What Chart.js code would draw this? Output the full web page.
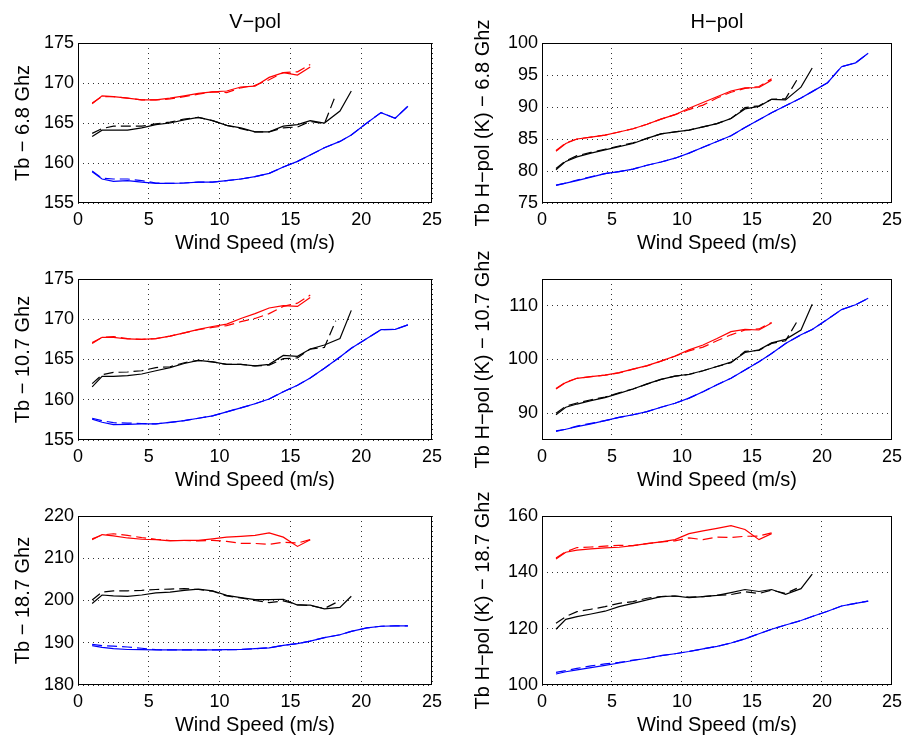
<!DOCTYPE html>
<html>
<head>
<meta charset="utf-8">
<script src="https://cdn.jsdelivr.net/npm/chart.js@4.4.0/dist/chart.umd.min.js"></script>
<style>
  body { margin: 0; background: #fff; }
  #wrap { position: relative; width: 908px; height: 740px; overflow: hidden; }
  canvas { position: absolute; }
</style>
</head>
<body>
<div id="wrap"></div>
<script>
// wind speed bins (m/s)
const speed = [1, 1.7, 2.5, 3.5, 4.5, 5.5, 6.5, 7.5, 8.5, 9.5, 10.5, 11.5, 12.5, 13.5, 14.5, 15.5, 16.4, 17.4, 18.5, 19.3, 20.4, 21.4, 22.4, 23.3];
const speedBlackDash = [1, 1.7, 2.5, 3.5, 4.5, 5.5, 6.5, 7.5, 8.5, 9.5, 10.5, 11.5, 12.5, 13.5, 14.5, 15.5, 16.4, 17.4, 18.2];
const xTicks = [0, 5, 10, 15, 20, 25];

// V-pol 6.8 GHz
const v68RedSolid = [167.4, 168.4, 168.3, 168.1, 167.9, 167.9, 168.1, 168.4, 168.7, 168.9, 169.0, 169.5, 169.6, 170.7, 171.3, 171.0, 172.0];
const v68RedDash = [167.5, 168.3, 168.3, 168.1, 167.9, 167.9, 168.0, 168.3, 168.6, 168.9, 168.8, 169.4, 169.7, 170.4, 171.3, 171.4, 172.3];
const v68BlackSolid = [163.3, 164.1, 164.1, 164.1, 164.4, 164.8, 165.0, 165.4, 165.7, 165.3, 164.7, 164.4, 163.9, 163.9, 164.6, 164.8, 165.3, 165.0, 166.5, 169.0];
const v68BlackDash = [163.7, 164.3, 164.6, 164.6, 164.6, 164.9, 165.1, 165.5, 165.7, 165.3, 164.7, 164.3, 163.9, 163.9, 164.4, 164.5, 165.2, 164.9, 168.5];
const v68BlueSolid = [158.9, 158.0, 157.7, 157.8, 157.6, 157.45, 157.45, 157.5, 157.6, 157.6, 157.8, 158.0, 158.3, 158.7, 159.5, 160.2, 161.0, 161.9, 162.7, 163.5, 165.0, 166.3, 165.6, 167.1];
const v68BlueDash = [159.0, 158.1, 158.0, 158.0, 157.8, 157.5, 157.45, 157.5, 157.6, 157.6, 157.8, 158.0, 158.3, 158.7, 159.5, 160.2, 161.0, 161.9, 162.7, 163.5, 165.0, 166.3, 165.6, 167.1];

// H-pol 6.8 GHz
const h68RedSolid = [83.1, 84.3, 85.0, 85.3, 85.6, 86.1, 86.6, 87.3, 88.1, 88.8, 89.8, 90.7, 91.6, 92.5, 93.0, 93.05, 94.2];
const h68RedDash = [83.2, 84.4, 85.0, 85.3, 85.6, 86.1, 86.6, 87.3, 88.1, 88.8, 89.6, 90.3, 91.4, 92.3, 92.9, 93.2, 94.4];
const h68BlackSolid = [80.2, 81.5, 82.2, 82.8, 83.3, 83.8, 84.3, 85.1, 85.8, 86.1, 86.4, 86.9, 87.4, 88.2, 89.7, 90.1, 91.2, 91.1, 93.1, 96.1];
const h68BlackDash = [80.4, 81.6, 82.4, 82.9, 83.4, 83.9, 84.4, 85.1, 85.8, 86.1, 86.4, 86.9, 87.4, 88.2, 89.9, 90.2, 91.2, 91.3, 94.2];
const h68BlueSolid = [77.75, 78.1, 78.5, 79.05, 79.6, 79.9, 80.3, 80.9, 81.4, 82.0, 82.8, 83.7, 84.6, 85.5, 86.8, 88.0, 89.1, 90.2, 91.4, 92.4, 93.8, 96.3, 96.9, 98.4];
const h68BlueDash = [77.8, 78.1, 78.6, 79.1, 79.6, 79.9, 80.3, 80.9, 81.4, 82.0, 82.8, 83.7, 84.6, 85.5, 86.8, 88.0, 89.1, 90.2, 91.4, 92.4, 93.8, 96.3, 96.9, 98.4];

// V-pol 10.7 GHz
const v107RedSolid = [167.0, 167.75, 167.75, 167.55, 167.5, 167.6, 167.9, 168.3, 168.75, 169.1, 169.4, 170.1, 170.7, 171.4, 171.7, 171.6, 172.7];
const v107RedDash = [167.1, 167.75, 167.85, 167.6, 167.5, 167.6, 167.9, 168.3, 168.7, 169.0, 169.2, 169.7, 170.1, 170.7, 171.6, 172.0, 173.0];
const v107BlackSolid = [161.6, 162.9, 162.9, 163.0, 163.2, 163.6, 164.0, 164.5, 164.9, 164.7, 164.4, 164.4, 164.2, 164.4, 165.5, 165.4, 166.3, 166.8, 167.6, 171.1];
const v107BlackDash = [162.0, 163.1, 163.4, 163.45, 163.6, 164.0, 164.1, 164.6, 164.9, 164.7, 164.4, 164.4, 164.2, 164.3, 165.1, 165.2, 166.3, 166.5, 169.8];
const v107BlueSolid = [157.6, 157.2, 156.9, 156.95, 157.0, 157.0, 157.2, 157.4, 157.7, 158.0, 158.5, 159.0, 159.5, 160.1, 161.0, 161.8, 162.7, 163.9, 165.3, 166.4, 167.6, 168.7, 168.75, 169.3];
const v107BlueDash = [157.7, 157.4, 157.15, 157.1, 157.05, 157.0, 157.2, 157.4, 157.7, 158.0, 158.5, 159.0, 159.5, 160.1, 161.0, 161.8, 162.7, 163.9, 165.3, 166.4, 167.6, 168.7, 168.75, 169.3];

// H-pol 10.7 GHz
const h107RedSolid = [94.5, 95.7, 96.5, 96.8, 97.1, 97.55, 98.2, 98.85, 99.7, 100.65, 101.8, 102.7, 103.9, 105.2, 105.6, 105.5, 106.8];
const h107RedDash = [94.6, 95.8, 96.5, 96.8, 97.1, 97.5, 98.2, 98.8, 99.7, 100.6, 101.6, 102.3, 103.5, 104.6, 105.5, 105.7, 106.9];
const h107BlackSolid = [89.7, 91.1, 91.7, 92.35, 92.9, 93.7, 94.5, 95.45, 96.3, 96.9, 97.25, 97.9, 98.7, 99.5, 101.3, 101.8, 103.1, 103.75, 105.5, 110.3];
const h107BlackDash = [90.0, 91.3, 91.9, 92.5, 93.0, 93.8, 94.5, 95.4, 96.3, 96.9, 97.2, 97.9, 98.7, 99.4, 101.5, 101.7, 103.0, 103.5, 107.0];
const h107BlueSolid = [86.6, 87.0, 87.5, 88.0, 88.6, 89.2, 89.7, 90.3, 91.1, 91.85, 92.8, 94.0, 95.3, 96.5, 98.05, 99.6, 101.1, 103.0, 104.6, 105.6, 107.5, 109.3, 110.2, 111.4];
const h107BlueDash = [86.7, 87.0, 87.6, 88.1, 88.6, 89.2, 89.7, 90.3, 91.1, 91.85, 92.8, 94.0, 95.3, 96.5, 98.05, 99.6, 101.1, 103.0, 104.6, 105.6, 107.5, 109.3, 110.2, 111.4];

// V-pol 18.7 GHz
const v187RedSolid = [214.4, 215.6, 215.3, 214.8, 214.5, 214.4, 214.1, 214.25, 214.25, 214.6, 215.0, 215.2, 215.4, 216.0, 215.0, 212.8, 214.4];
const v187RedDash = [214.6, 215.5, 215.8, 215.4, 214.9, 214.5, 214.2, 214.2, 214.1, 214.25, 214.0, 213.5, 213.5, 213.3, 213.8, 213.6, 214.4];
const v187BlackSolid = [199.3, 201.3, 201.1, 201.0, 201.3, 201.8, 202.0, 202.4, 202.7, 202.3, 201.2, 200.7, 200.2, 200.2, 200.3, 198.9, 198.9, 198.0, 198.35, 201.0];
const v187BlackDash = [200.1, 202.0, 202.3, 202.3, 202.4, 202.6, 202.7, 202.8, 202.6, 202.2, 201.1, 200.6, 200.0, 199.5, 199.9, 199.05, 198.8, 198.1, 199.45];
const v187BlueSolid = [189.3, 188.9, 188.6, 188.4, 188.35, 188.3, 188.3, 188.3, 188.3, 188.3, 188.35, 188.4, 188.6, 188.8, 189.4, 189.8, 190.4, 191.2, 191.9, 192.7, 193.5, 193.9, 194.0, 194.0];
const v187BlueDash = [189.6, 189.3, 189.2, 189.0, 188.7, 188.35, 188.3, 188.3, 188.3, 188.3, 188.35, 188.4, 188.6, 188.8, 189.4, 189.8, 190.4, 191.2, 191.9, 192.7, 193.5, 193.9, 194.0, 194.0];

// H-pol 18.7 GHz
const h187RedSolid = [144.7, 147.15, 147.9, 148.3, 148.7, 148.9, 149.5, 150.2, 150.8, 151.6, 153.75, 154.7, 155.6, 156.6, 155.2, 151.6, 153.75];
const h187RedDash = [145.1, 147.3, 148.8, 149.0, 149.3, 149.6, 149.5, 150.2, 150.8, 151.2, 152.2, 151.6, 152.5, 152.4, 152.8, 152.9, 154.0];
const h187BlackSolid = [119.8, 123.3, 124.3, 125.2, 126.2, 127.8, 129.0, 130.2, 131.4, 131.6, 131.0, 131.4, 131.8, 132.8, 133.9, 133.2, 133.9, 132.2, 134.2, 139.4];
const h187BlackDash = [121.9, 124.3, 126.05, 126.9, 127.8, 129.0, 129.6, 130.8, 131.4, 131.6, 131.2, 131.4, 131.8, 132.1, 133.1, 132.5, 133.7, 132.5, 134.3];
const h187BlueSolid = [103.9, 104.7, 105.4, 106.2, 107.0, 107.8, 108.7, 109.5, 110.4, 111.1, 111.9, 112.85, 113.7, 114.9, 116.4, 118.2, 119.8, 121.3, 122.9, 124.3, 126.2, 128.05, 129.0, 129.8];
const h187BlueDash = [104.5, 105.1, 105.9, 106.8, 107.5, 108.0, 108.8, 109.5, 110.4, 111.1, 111.9, 112.85, 113.7, 114.9, 116.4, 118.2, 119.8, 121.3, 122.9, 124.3, 126.2, 128.05, 129.0, 129.8];

// y tick labels per panel
const yTicksV68 = [155, 160, 165, 170, 175];
const yTicksH68 = [75, 80, 85, 90, 95, 100];
const yTicksV107 = [155, 160, 165, 170, 175];
const yTicksH107 = [90, 100, 110];
const yTicksV187 = [180, 190, 200, 210, 220];
const yTicksH187 = [100, 120, 140, 160];

const FONT = 'Liberation Sans, Arial, Helvetica, sans-serif';
const RED = '#ff0000', BLACK = '#000000', BLUE = '#0000ff';

function pts(xs, ys) {
    return ys.map((y, i) => ({x: xs[i], y: y}));
}

function lines(rs, rd, ks, kd, bs, bd) {
    return [
        {c: RED, d: [], data: pts(speed, rs)},
        {c: RED, d: [10, 5], data: pts(speed, rd)},
        {c: BLACK, d: [], data: pts(speed, ks)},
        {c: BLACK, d: [10, 5], data: pts(speedBlackDash, kd)},
        {c: BLUE, d: [], data: pts(speed, bs)},
        {c: BLUE, d: [10, 5], data: pts(speed, bd)}
    ];
}

// frame round the plot area, like a matlab axes box
const framePlugin = {
    id: 'frame',
    afterDatasetsDraw(chart) {
        const a = chart.chartArea;
        const ctx = chart.ctx;
        ctx.save();
        ctx.strokeStyle = '#000';
        ctx.lineWidth = 1;
        ctx.strokeRect(Math.round(a.left) + 0.5, Math.round(a.top) + 0.5,
            Math.round(a.right - a.left) - 1, Math.round(a.bottom - a.top) - 1);
        ctx.restore();
    }
};

// geometry: canvases overlap so the long y titles are not cut
const rows = [
    {top: 0, height: 272, areaH: 160},
    {top: 236, height: 278, areaH: 161},
    {top: 473, height: 268, areaH: 169}
];
const cols = [
    {left: 0, width: 454, padL: 7, yW: 71, padR: 22},
    {left: 454, width: 454, padL: 13, yW: 75, padR: 13}
];

const panels = [
    {r: 0, c: 0, title: 'V−pol', ylabel: 'Tb − 6.8 Ghz', min: 155, max: 175, ticks: yTicksV68,
        sets: lines(v68RedSolid, v68RedDash, v68BlackSolid, v68BlackDash, v68BlueSolid, v68BlueDash)},
    {r: 0, c: 1, title: 'H−pol', ylabel: 'Tb H−pol (K) − 6.8 Ghz', min: 75, max: 100, ticks: yTicksH68,
        sets: lines(h68RedSolid, h68RedDash, h68BlackSolid, h68BlackDash, h68BlueSolid, h68BlueDash)},
    {r: 1, c: 0, title: '', ylabel: 'Tb − 10.7 Ghz', min: 155, max: 175, ticks: yTicksV107,
        sets: lines(v107RedSolid, v107RedDash, v107BlackSolid, v107BlackDash, v107BlueSolid, v107BlueDash)},
    {r: 1, c: 1, title: '', ylabel: 'Tb H−pol (K) − 10.7 Ghz', min: 85, max: 115, ticks: yTicksH107,
        sets: lines(h107RedSolid, h107RedDash, h107BlackSolid, h107BlackDash, h107BlueSolid, h107BlueDash)},
    {r: 2, c: 0, title: '', ylabel: 'Tb − 18.7 Ghz', min: 180, max: 220, ticks: yTicksV187,
        sets: lines(v187RedSolid, v187RedDash, v187BlackSolid, v187BlackDash, v187BlueSolid, v187BlueDash)},
    {r: 2, c: 1, title: '', ylabel: 'Tb H−pol (K) − 18.7 Ghz', min: 100, max: 160, ticks: yTicksH187,
        sets: lines(h187RedSolid, h187RedDash, h187BlackSolid, h187BlackDash, h187BlueSolid, h187BlueDash)}
];

const X_AXIS_H = 56;
const TOP_SPACE = 43;

panels.forEach(function (p) {
    const row = rows[p.r], col = cols[p.c];
    const cv = document.createElement('canvas');
    cv.width = col.width;
    cv.height = row.height;
    cv.style.left = col.left + 'px';
    cv.style.top = row.top + 'px';
    document.getElementById('wrap').appendChild(cv);

    const hasTitle = p.title !== '';
    const padBottom = row.height - TOP_SPACE - row.areaH - X_AXIS_H;

    new Chart(cv, {
        type: 'line',
        data: {
            datasets: p.sets.map(s => ({
                data: s.data,
                borderColor: s.c,
                backgroundColor: s.c,
                borderWidth: 1.2,
                borderDash: s.d,
                pointRadius: 0,
                tension: 0,
                fill: false
            }))
        },
        options: {
            responsive: false,
            animation: false,
            layout: {
                padding: {left: col.padL, right: col.padR, top: hasTitle ? 0 : TOP_SPACE, bottom: padBottom}
            },
            plugins: {
                legend: {display: false},
                tooltip: {enabled: false},
                title: {
                    display: hasTitle,
                    text: p.title,
                    fullSize: false,
                    color: '#000',
                    font: {family: FONT, size: 20, weight: 'normal'},
                    padding: {top: 10, bottom: 9}
                }
            },
            scales: {
                x: {
                    type: 'linear',
                    min: 0,
                    max: 25,
                    afterBuildTicks: s => { s.ticks = xTicks.map(v => ({value: v})); },
                    afterFit: s => { s.height = X_AXIS_H; },
                    grid: {color: 'rgba(0,0,0,0.8)', lineWidth: 1, drawTicks: false},
                    border: {display: false, dash: [1, 4]},
                    ticks: {color: '#000', font: {family: FONT, size: 18}, padding: 6, maxRotation: 0},
                    title: {display: true, text: 'Wind Speed (m/s)', color: '#000',
                        font: {family: FONT, size: 20}, padding: {top: 4, bottom: 4}}
                },
                y: {
                    type: 'linear',
                    min: p.min,
                    max: p.max,
                    afterBuildTicks: s => { s.ticks = p.ticks.map(v => ({value: v})); },
                    afterFit: s => { s.width = col.yW; },
                    grid: {color: 'rgba(0,0,0,0.8)', lineWidth: 1, drawTicks: false},
                    border: {display: false, dash: [1, 4]},
                    ticks: {color: '#000', font: {family: FONT, size: 18}, padding: 4},
                    title: {display: true, text: p.ylabel, color: '#000',
                        font: {family: FONT, size: 20}, padding: {top: 4, bottom: 4}}
                }
            }
        },
        plugins: [framePlugin]
    });
});
</script>
</body>
</html>
